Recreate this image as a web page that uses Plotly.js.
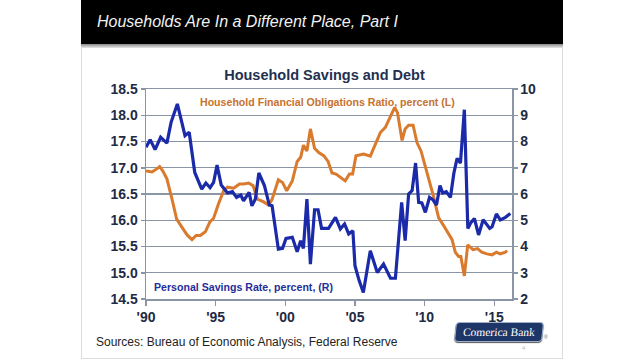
<!DOCTYPE html>
<html>
<head>
<meta charset="utf-8">
<script src="https://cdn.plot.ly/plotly-3.0.1.min.js"></script>
<style>
  html, body { margin: 0; padding: 0; background: #ffffff; }
  body { width: 640px; height: 360px; position: relative; overflow: hidden; font-family: "Liberation Sans", Arial, sans-serif; }
  #slide { position: absolute; left: 81px; top: 0; width: 480px; height: 358px; border-left: 1px solid #dcdcdc; border-right: 1px solid #dcdcdc; border-bottom: 1px solid #dcdcdc; background: #ffffff; }
  #bar { position: absolute; left: 81px; top: 0; width: 482px; height: 44px; background: #000000; }
  #shadow { position: absolute; left: 81px; top: 44px; width: 482px; height: 4px; background: linear-gradient(#8a8a8a, #e8e8e8); }
  #hdr { position: absolute; left: 97px; top: 13px; color: #f2f2f2; font-style: italic; font-size: 16px; white-space: nowrap; }
  #src { position: absolute; left: 96px; top: 335px; color: #222222; font-size: 12px; white-space: nowrap; }
  #logo { position: absolute; left: 455px; top: 322px; width: 86px; height: 18px; background: #1e3567; border: 1px solid #9fb0cc; border-radius: 4px; box-shadow: 0 1px 1px #555; transform: skewX(-6deg); color: #ffffff; font-family: "Liberation Serif", "DejaVu Serif", serif; font-size: 11.5px; line-height: 18px; text-align: center; white-space: nowrap; }
  #reg { position: absolute; left: 544px; top: 334px; font-size: 5px; color: #666; }
  #pg { position: absolute; left: 522px; top: 345px; font-size: 6px; color: #bbbbbb; }
  #chart { position: absolute; left: 0; top: 0; width: 640px; height: 360px; }
</style>
</head>
<body>
<div id="slide"></div>
<div id="bar"></div>
<div id="shadow"></div>
<div id="hdr">Households Are In a Different Place, Part I</div>
<div id="src">Sources: Bureau of Economic Analysis, Federal Reserve</div>
<div id="logo">Comerica Bank</div>
<div id="reg">®</div>
<div id="pg">4</div>
<div id="chart"></div>
<script>
// Personal savings rate, percent (right axis)
const savingsDates = [1990.0,1990.3,1990.65,1991.05,1991.5,1991.8,1992.25,1992.8,1993.1,1993.5,1994.0,1994.3,1994.6,1994.85,1995.1,1995.4,1995.85,1996.2,1996.5,1996.8,1997.0,1997.4,1997.6,1997.85,1998.1,1998.5,1998.85,1999.05,1999.5,1999.8,2000.05,2000.5,2000.85,2001.1,2001.3,2001.55,2001.8,2002.1,2002.35,2002.6,2003.1,2003.6,2003.95,2004.25,2004.55,2004.85,2005.0,2005.3,2005.6,2006.1,2006.6,2007.05,2007.55,2007.9,2008.35,2008.6,2008.85,2009.1,2009.35,2009.57,2009.8,2010.05,2010.35,2010.6,2010.85,2011.1,2011.3,2011.55,2011.85,2012.1,2012.33,2012.57,2012.85,2013.1,2013.33,2013.57,2013.87,2014.2,2014.67,2014.84,2015.15,2015.43,2015.8,2016.15];
const savingsRate = [7.78,8.07,7.69,8.16,7.94,8.73,9.43,8.22,8.35,6.82,6.19,6.42,6.24,6.44,7.10,6.34,6.04,6.09,5.87,5.96,5.74,6.06,5.55,5.81,6.80,6.32,5.58,5.55,3.90,3.93,4.31,4.35,3.80,4.22,3.93,5.81,3.33,5.40,5.40,4.69,4.69,5.11,4.67,4.86,4.48,4.60,3.27,2.70,2.25,3.84,3.01,3.33,2.79,2.79,5.68,4.22,6.00,6.13,7.18,5.68,5.66,5.30,5.87,5.78,5.58,6.32,6.04,6.09,5.87,6.80,7.36,7.18,9.21,4.69,4.92,5.07,4.44,5.02,4.69,4.75,5.24,5.01,5.11,5.26];

// Household financial obligations ratio, percent (left axis)
const obligDates = [1990.0,1990.43,1990.67,1990.98,1991.2,1991.5,1991.87,1992.2,1992.6,1992.95,1993.3,1993.6,1993.9,1994.26,1994.57,1994.85,1995.2,1995.57,1995.85,1996.3,1996.7,1997.0,1997.37,1997.68,1998.0,1998.45,1998.8,1999.05,1999.5,1999.8,2000.1,2000.5,2000.85,2001.1,2001.3,2001.55,2001.8,2002.1,2002.4,2002.75,2003.07,2003.35,2003.64,2003.95,2004.3,2004.6,2004.83,2005.07,2005.62,2006.1,2006.46,2006.82,2007.18,2007.47,2007.85,2008.05,2008.38,2008.6,2008.85,2009.17,2009.45,2009.74,2010.05,2010.36,2010.65,2011.0,2011.36,2011.72,2011.97,2012.2,2012.44,2012.6,2012.85,2013.09,2013.47,2013.8,2014.1,2014.47,2014.84,2015.15,2015.43,2015.79,2015.92];
const obligRatio = [16.94,16.92,16.96,17.02,16.94,16.79,16.40,16.02,15.86,15.72,15.63,15.71,15.71,15.78,15.96,16.04,16.31,16.56,16.63,16.61,16.69,16.69,16.71,16.66,16.40,16.35,16.29,16.40,16.77,16.72,16.56,16.75,17.12,17.20,17.43,17.32,17.74,17.37,17.29,17.23,17.12,16.90,16.88,16.82,16.75,16.88,16.88,17.23,17.26,17.22,17.45,17.67,17.77,17.93,18.15,18.05,17.52,17.74,17.81,17.81,17.48,17.32,17.04,16.72,16.44,16.05,15.90,15.74,15.63,15.39,15.31,15.31,14.94,15.53,15.44,15.46,15.39,15.36,15.34,15.39,15.36,15.39,15.42];

const xTickVals = [1990,1995,2000,2005,2010,2015];
const xTickText = ["'90","'95","'00","'05","'10","'15"];
const leftTicks = [14.5,15.0,15.5,16.0,16.5,17.0,17.5,18.0,18.5];
const leftTickText = ["14.5","15.0","15.5","16.0","16.5","17.0","17.5","18.0","18.5"];
const rightTicks = [2,3,4,5,6,7,8,9,10];

const blue = '#1a2aa8';
const orange = '#d97a2c';
const tickColor = '#1f2a44';
const gridColor = '#8a95a5';

const traces = [
  { x: obligDates, y: obligRatio, type: 'scatter', mode: 'lines', yaxis: 'y',
    line: { color: orange, width: 3 }, name: 'Household Financial Obligations Ratio, percent (L)' },
  { x: savingsDates, y: savingsRate, type: 'scatter', mode: 'lines', yaxis: 'y2',
    line: { color: blue, width: 3.2 }, name: 'Personal Savings Rate, percent, (R)' }
];

const tickFont = { family: '"Liberation Sans", Arial, sans-serif', size: 14, color: tickColor, weight: 'bold' };

const layout = {
  width: 640, height: 360,
  margin: { l: 146, r: 128, t: 89, b: 61, pad: 0 },
  paper_bgcolor: 'rgba(0,0,0,0)',
  plot_bgcolor: 'rgba(0,0,0,0)',
  showlegend: false,
  title: {
    text: '<b>Household Savings and Debt</b>',
    font: { family: '"Liberation Sans", Arial, sans-serif', size: 14.5, color: '#1f3050' },
    xref: 'container', yref: 'container', x: 0.507, y: 0.792, xanchor: 'center', yanchor: 'middle'
  },
  xaxis: {
    range: [1990, 2016.27],
    tickvals: xTickVals, ticktext: xTickText,
    tickfont: tickFont,
    ticks: 'outside', ticklen: 5, tickwidth: 1.5, tickcolor: gridColor,
    showline: true, linecolor: gridColor, linewidth: 1.5, mirror: true,
    showgrid: false, zeroline: false
  },
  yaxis: {
    range: [14.5, 18.5],
    tickvals: leftTicks, ticktext: leftTickText,
    tickfont: tickFont,
    ticks: 'outside', ticklen: 4, tickwidth: 1.5, tickcolor: gridColor,
    showline: true, linecolor: gridColor, linewidth: 1.5,
    showgrid: true, gridcolor: gridColor, gridwidth: 1.3, zeroline: false
  },
  yaxis2: {
    range: [2, 10], overlaying: 'y', side: 'right',
    tickvals: rightTicks,
    tickfont: tickFont,
    ticks: 'outside', ticklen: 4, tickwidth: 1.5, tickcolor: gridColor,
    showline: true, linecolor: gridColor, linewidth: 1.5,
    showgrid: false, zeroline: false
  },
  annotations: [
    { xref: 'paper', yref: 'paper', x: 0.497, y: 0.938, xanchor: 'center', yanchor: 'middle', showarrow: false,
      text: '<b>Household Financial Obligations Ratio, percent (L)</b>',
      font: { family: '"Liberation Sans", Arial, sans-serif', size: 10.6, color: '#c8722e' } },
    { xref: 'paper', yref: 'paper', x: 0.016, y: 0.055, xanchor: 'left', yanchor: 'middle', showarrow: false,
      text: '<b>Personal Savings Rate, percent, (R)</b>',
      font: { family: '"Liberation Sans", Arial, sans-serif', size: 10.6, color: '#1f2f9a' } }
  ]
};

Plotly.newPlot('chart', traces, layout, { staticPlot: true, displayModeBar: false });
</script>
</body>
</html>
